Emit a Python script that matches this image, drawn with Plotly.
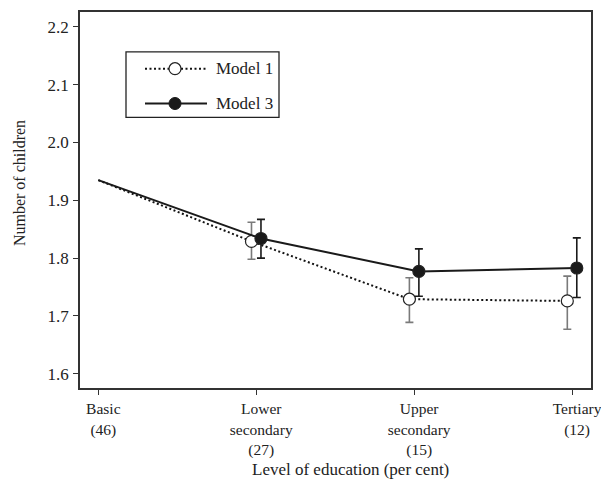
import plotly.graph_objects as go

# ---- data ----
categories = ["Basic<br>(46)", "Lower<br>secondary<br>(27)", "Upper<br>secondary<br>(15)", "Tertiary<br>(12)"]
model1 = [1.935, 1.829, 1.729, 1.726]
model1_hi = [None, 1.862, 1.766, 1.769]
model1_lo = [None, 1.798, 1.689, 1.677]
model3 = [1.935, 1.834, 1.777, 1.783]
model3_hi = [None, 1.867, 1.816, 1.835]
model3_lo = [None, 1.800, 1.734, 1.732]
y_ticks = [1.6, 1.7, 1.8, 1.9, 2.0, 2.1, 2.2]

FONT = "Liberation Serif"
TXT = "#222"
OFF = 0.03  # horizontal dodge of the two models
idx = list(range(len(categories)))


def xs(offset):
    return [0 if i == 0 else i + offset for i in idx]


fig = go.Figure()


def add_model(vals, hi, lo, offset, dash, fill, errcol, lcol):
    x = xs(offset)
    fig.add_trace(go.Scatter(x=x, y=vals, mode="lines",
                             line=dict(color=lcol, width=2, dash=dash),
                             showlegend=False, hoverinfo="skip"))
    mx = x[1:]
    my = vals[1:]
    plus = [h - v for h, v in zip(hi[1:], my)]
    minus = [v - l for l, v in zip(lo[1:], my)]
    fig.add_trace(go.Scatter(x=mx, y=my, mode="markers",
                             marker=dict(size=12, color=fill, line=dict(color="#222", width=1.2)),
                             error_y=dict(type="data", array=plus, arrayminus=minus,
                                          color=errcol, thickness=1.6, width=4),
                             showlegend=False))


add_model(model1, model1_hi, model1_lo, -OFF, "2px,2.5px", "white", "#7a7a7a", "#111")
add_model(model3, model3_hi, model3_lo, OFF, "solid", "#1a1a1a", "#1a1a1a", "#1a1a1a")

# ---- page geometry (page body has an 8px margin) ----
BODY = 8
L, T, W, H = 80, 10, 511, 378          # plot area in window pixels
FIG_W, FIG_H = 609 - BODY, 488 - BODY


def px(x):
    return (x - L) / W


def py(y):
    return (T + H - y) / H


shapes = [
    dict(type="rect", xref="paper", yref="paper", x0=px(126), x1=px(279), y0=py(116), y1=py(50),
         line=dict(color="#222", width=1.3), fillcolor="white", layer="above"),
    dict(type="line", xref="paper", yref="paper", x0=px(145), x1=px(207), y0=py(67), y1=py(67),
         line=dict(color="#111", width=2, dash="2px,2.5px"), layer="above"),
    dict(type="circle", xref="paper", yref="paper", xsizemode="pixel", ysizemode="pixel",
         xanchor=px(175), yanchor=py(67), x0=-6, x1=6, y0=-6, y1=6,
         fillcolor="white", line=dict(color="#222", width=1.2), layer="above"),
    dict(type="line", xref="paper", yref="paper", x0=px(145), x1=px(207), y0=py(102), y1=py(102),
         line=dict(color="#1a1a1a", width=2), layer="above"),
    dict(type="circle", xref="paper", yref="paper", xsizemode="pixel", ysizemode="pixel",
         xanchor=px(175), yanchor=py(102), x0=-6, x1=6, y0=-6, y1=6,
         fillcolor="#1a1a1a", line=dict(color="#1a1a1a", width=1), layer="above"),
]
annotations = [
    dict(text="Model 1", xref="paper", yref="paper", x=px(214), y=py(67), xanchor="left",
         yanchor="middle", showarrow=False, font=dict(family=FONT, size=17, color=TXT)),
    dict(text="Model 3", xref="paper", yref="paper", x=px(214), y=py(102), xanchor="left",
         yanchor="middle", showarrow=False, font=dict(family=FONT, size=17, color=TXT)),
    dict(text="Level of education (per cent)", xref="paper", yref="paper", x=px(350), y=py(470),
         xanchor="center", yanchor="middle", showarrow=False,
         font=dict(family=FONT, size=17, color=TXT)),
    dict(text="Number of children", xref="paper", yref="paper", x=px(19), y=py(182),
         xanchor="center", yanchor="middle", textangle=-90, showarrow=False,
         font=dict(family=FONT, size=16, color=TXT)),
]

axis_common = dict(showline=True, linecolor="#333", linewidth=1.5, mirror=True,
                   ticks="outside", ticklen=5, tickwidth=1.3, tickcolor="#333",
                   showgrid=False, zeroline=False)

fig.update_layout(
    width=FIG_W, height=FIG_H,
    margin=dict(l=L - BODY, r=FIG_W - (L - BODY) - W, t=T - BODY, b=FIG_H - (T - BODY) - H),
    plot_bgcolor="white", paper_bgcolor="white",
    font=dict(family=FONT, size=16, color=TXT),
    shapes=shapes, annotations=annotations,
    xaxis=dict(range=[-0.116, 3.12], tickmode="array", tickvals=idx, ticktext=categories,
               ticklabelshift=5, ticklabelstandoff=1,
               tickfont=dict(family=FONT, size=15.5, color=TXT), **axis_common),
    yaxis=dict(range=[1.5754, 2.2258], tickmode="array", tickvals=y_ticks,
               ticktext=[f"{v:.1f}" for v in y_ticks], ticklabelstandoff=1,
               tickfont=dict(family=FONT, size=17, color=TXT), **axis_common),
)

fig.write_html("out.html")
